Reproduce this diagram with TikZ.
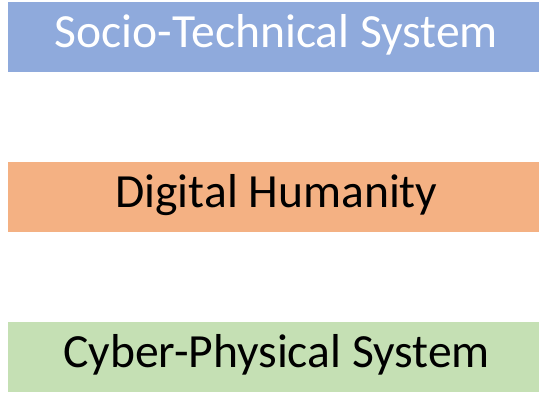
\documentclass[tikz,border=0pt]{standalone}
\usepackage{fontspec}
\setmainfont{Carlito}
\definecolor{boxblue}{HTML}{8FAADC}
\definecolor{boxorange}{HTML}{F4B183}
\definecolor{boxgreen}{HTML}{C5E0B4}
\tikzset{
  layer/.style={minimum width=531pt, minimum height=70pt, inner sep=0pt, outer sep=0pt, anchor=north west, text height=30pt, text depth=10pt, font=\fontsize{47.6}{52}\selectfont}
}
\begin{document}
\begin{tikzpicture}[x=1pt,y=-1pt]
\useasboundingbox (0,0) rectangle (539,392);
\node[layer, fill=boxblue, text=white] (sts) at (8,2) {\hspace*{6pt}Socio-Technical System};
\node[layer, fill=boxorange, text=black] (dh) at (8,162) {\hspace*{6pt}Digital Humanity};
\node[layer, fill=boxgreen, text=black] (cps) at (8,322) {\hspace*{6pt}Cyber-Physical System};
\end{tikzpicture}
\end{document}
